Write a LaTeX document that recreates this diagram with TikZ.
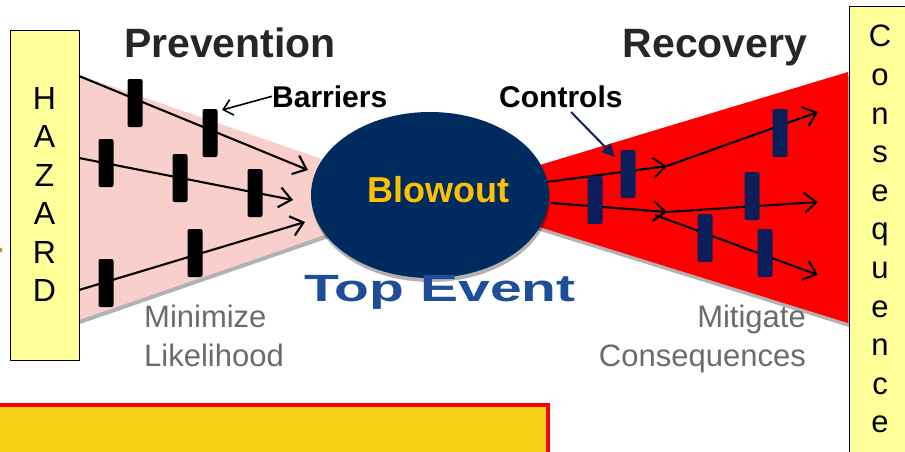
\documentclass[tikz,border=0pt]{standalone}
\usepackage{fontspec}
\setmainfont{Liberation Sans}
\usetikzlibrary{arrows.meta,shapes.geometric,shadows,positioning}

\definecolor{pinkfan}{HTML}{F8CFCA}
\definecolor{redfan}{HTML}{FF0000}
\definecolor{eventnavy}{HTML}{002B5F}
\definecolor{ctrlnavy}{HTML}{0C1F5B}
\definecolor{blowgold}{HTML}{FFC000}
\definecolor{titlegrey}{HTML}{262626}
\definecolor{notegrey}{HTML}{6B6B6B}
\definecolor{hazardyellow}{HTML}{FFFF99}
\definecolor{panelgold}{HTML}{F6D118}
\definecolor{topblue}{HTML}{1F4E99}
\definecolor{dotorange}{HTML}{C8961E}

\begin{document}
\begin{tikzpicture}[x=1pt, y=-1pt,
	barrierbar/.style={fill=black, rounded corners=2pt, minimum width=15pt, minimum height=48pt, inner sep=0pt},
	controlbar/.style={barrierbar, fill=ctrlnavy},
	threat/.style={line width=2.1pt, -{Straight Barb[length=12pt,width=20pt]}},
	title/.style={font=\fontsize{41}{49}\selectfont\bfseries, text=titlegrey, inner sep=0pt},
	callout/.style={font=\fontsize{30}{36}\selectfont\bfseries, inner sep=0pt},
	note/.style={font=\fontsize{31}{39}\selectfont, text=notegrey, inner sep=0pt},
	letters/.style={align=center, inner sep=0pt},
	eventfont/.style={font=\fontsize{38}{44}\selectfont\bfseries, inner sep=0pt},
	endbox/.style={draw, line width=1pt, fill=hazardyellow, inner sep=0pt},
	softshadow/.style={drop shadow={shadow xshift=1pt, shadow yshift=-4pt, opacity=0.3, fill=black}},
	]
	
	\useasboundingbox (0,0) rectangle (905,451);
	
	% bottom panel
	\draw[redfan, line width=4pt, fill=panelgold] (-10,405) rectangle (548,480);
	
	% the two fans
	\fill[pinkfan, softshadow] (79,75) -- (345,167) -- (345,228) -- (79,320) -- cycle;
	\fill[redfan, softshadow] (520,171) -- (848,72) -- (848,323) -- (520,221) -- cycle;
	
	% hazard and consequence
	\node (hazard) [endbox, minimum width=69pt, minimum height=330pt] at (44.5,195) {};
	\node (hazardtext) [letters, font=\fontsize{32}{38.5}\selectfont, anchor=north] at (44.5,87) {H\\A\\Z\\A\\R\\D};
	\node (conseq) [endbox, minimum width=80pt, minimum height=470pt] at (889,241) {};
	\node (conseqtext) [letters, font=\fontsize{31}{38.6}\selectfont, anchor=north] at (880,25) {C\\o\\n\\s\\e\\q\\u\\e\\n\\c\\e};
	\fill[dotorange] (0,250) circle (2.5pt);
	
	% top event
	\node (blowout) [ellipse, fill=eventnavy, minimum width=238pt, minimum height=166pt, inner sep=0pt, softshadow] at (430,195) {};
	\node (blowlabel) [anchor=base, font=\fontsize{36}{43}\selectfont\bfseries, text=blowgold, inner sep=0pt] at (438,202) {Blowout};
	\node (toplabel) [eventfont, anchor=base, text=topblue] at (440,301) {\scalebox{1.5}[1]{Top Event}};
	
	% threat lines
	\coordinate (h1) at (79,76);
	\coordinate (h2) at (79,158);
	\coordinate (h3) at (79,290);
	\coordinate (t1) at (308,170);
	\coordinate (t2) at (293,200);
	\coordinate (t3) at (305,222);
	\draw[threat] (h1) -- (t1);
	\draw[threat] (h2) -- (t2);
	\draw[threat] (h3) -- (t3);
	
	% consequence lines
	\coordinate (e1) at (547,182);
	\coordinate (e2) at (551,203);
	\coordinate (m1) at (667,166);
	\coordinate (m2) at (667,212);
	\coordinate (s3) at (655,215);
	\coordinate (c1) at (818,112);
	\coordinate (c2) at (818,202);
	\coordinate (c3) at (818,275);
	\draw[threat] (e1) -- (m1);
	\draw[threat] (m1) -- (c1);
	\draw[threat] (e2) -- (m2);
	\draw[threat] (m2) -- (c2);
	\draw[threat] (s3) -- (c3);
	
	% barriers
	\node (b1) [barrierbar] at (135,103) {};
	\node (b2) [barrierbar] at (210,133) {};
	\node (b3) [barrierbar] at (106,163) {};
	\node (b4) [barrierbar] at (180,178) {};
	\node (b5) [barrierbar] at (255,193) {};
	\node (b6) [barrierbar] at (106,283) {};
	\node (b7) [barrierbar] at (195,253) {};
	
	% controls
	\node (k1) [controlbar] at (595,200) {};
	\node (k2) [controlbar] at (628,174) {};
	\node (k3) [controlbar] at (780,133) {};
	\node (k4) [controlbar] at (752,196) {};
	\node (k5) [controlbar] at (705,238) {};
	\node (k6) [controlbar] at (765,253) {};
	
	% labels
	\node (prev) [title, anchor=base] at (230,57) {Prevention};
	\node (recov) [title, anchor=base] at (715,57) {Recovery};
	\node (barlabel) [callout, anchor=base west] at (272,107) {Barriers};
	\node (ctrllabel) [callout, anchor=base west] at (499,107) {Controls};
	\coordinate (bartip) at (222,110);
	\coordinate (ctrlfrom) at (571,112);
	\coordinate (ctrltip) at (615,157);
	\draw[line width=1.6pt, -{Straight Barb[length=9pt,width=16pt]}] (barlabel.west) -- (bartip);
	\draw[ctrlnavy, line width=2pt, -{Triangle[length=13pt,width=12pt]}] (ctrlfrom) -- (ctrltip);
	
	\node (minimize) [note, anchor=north west, align=left] at (144,305) {Minimize\\Likelihood};
	\node (mitigate) [note, anchor=north east, align=right] at (806,305) {Mitigate\\Consequences};
	
\end{tikzpicture}
\end{document}
